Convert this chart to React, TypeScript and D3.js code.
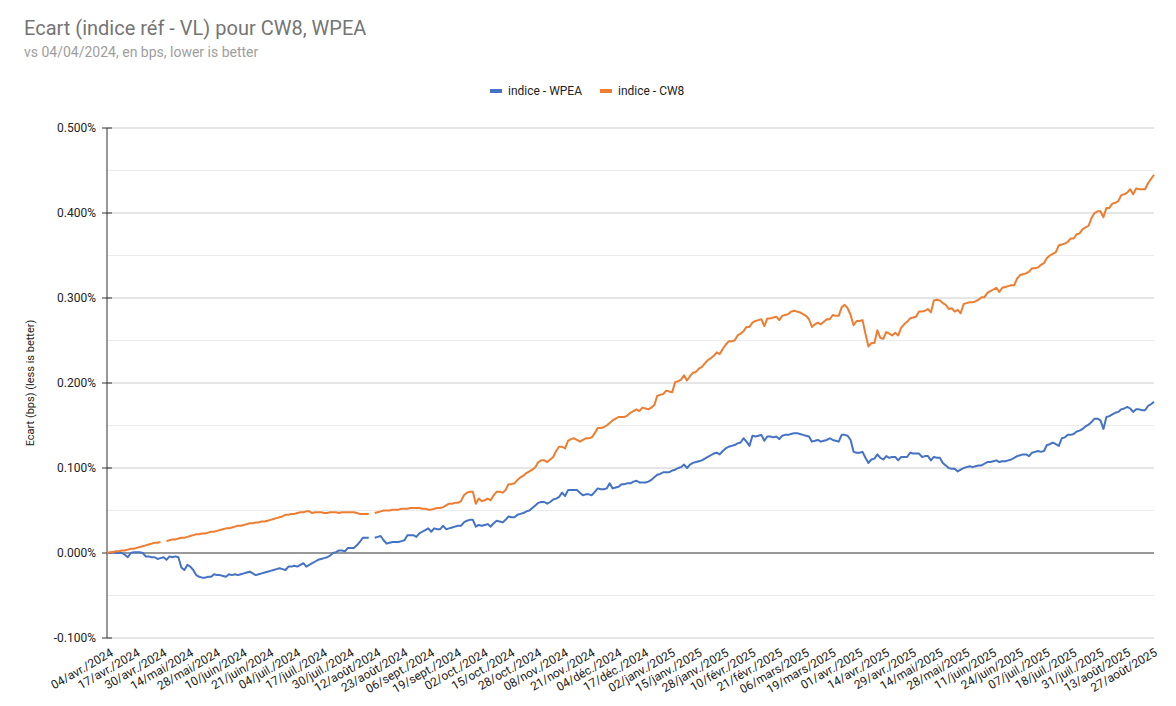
import React, { useEffect, useRef } from 'react'
import * as d3 from 'd3'

// x tick labels, one every 9 trading days
const tickLabels: string[] = [
  '04/avr./2024', '17/avr./2024', '30/avr./2024', '14/mai/2024', '28/mai/2024',
  '10/juin/2024', '21/juin/2024', '04/juil./2024', '17/juil./2024', '30/juil./2024',
  '12/août/2024', '23/août/2024', '06/sept./2024', '19/sept./2024', '02/oct./2024',
  '15/oct./2024', '28/oct./2024', '08/nov./2024', '21/nov./2024', '04/déc./2024',
  '17/déc./2024', '02/janv./2025', '15/janv./2025', '28/janv./2025', '10/févr./2025',
  '21/févr./2025', '06/mars/2025', '19/mars/2025', '01/avr./2025', '14/avr./2025',
  '29/avr./2025', '14/mai/2025', '28/mai/2025', '11/juin/2025', '24/juin/2025',
  '07/juil./2025', '18/juil./2025', '31/juil./2025', '13/août/2025', '27/août/2025'
]
const tickStep = 9

// ecart in %, one value per trading day (null = no value)
const wpea: (number | null)[] = [
  0.000, 0.000, 0.001, 0.000, 0.000, 0.000, -0.002, -0.005, 0.000, 0.001,
  0.001, 0.001, 0.000, -0.004, -0.004, -0.005, -0.005, -0.007, -0.006, -0.005,
  -0.008, -0.004, -0.005, -0.004, -0.005, -0.017, -0.020, -0.014, -0.016, -0.020,
  -0.026, -0.028, -0.029, -0.029, -0.028, -0.028, -0.025, -0.026, -0.026, -0.027,
  -0.028, -0.025, -0.026, -0.025, -0.026, -0.025, -0.024, -0.023, -0.022, -0.024,
  -0.026, -0.025, -0.024, -0.023, -0.022, -0.021, -0.020, -0.019, -0.018, -0.019,
  -0.020, -0.016, -0.016, -0.015, -0.016, -0.014, -0.012, -0.016, -0.014, -0.012,
  -0.010, -0.008, -0.007, -0.006, -0.005, -0.003, 0.000, 0.001, 0.003, 0.003,
  0.002, 0.006, 0.006, 0.006, 0.009, 0.013, 0.018, 0.018, 0.018, null,
  0.018, 0.019, 0.020, 0.015, 0.011, 0.012, 0.013, 0.013, 0.013, 0.014,
  0.015, 0.021, 0.021, 0.021, 0.019, 0.023, 0.025, 0.027, 0.029, 0.025,
  0.029, 0.028, 0.028, 0.032, 0.028, 0.029, 0.030, 0.031, 0.032, 0.032,
  0.036, 0.038, 0.039, 0.039, 0.031, 0.033, 0.032, 0.033, 0.034, 0.031,
  0.035, 0.038, 0.037, 0.036, 0.039, 0.043, 0.042, 0.042, 0.045, 0.046,
  0.047, 0.049, 0.050, 0.053, 0.056, 0.059, 0.060, 0.060, 0.058, 0.060,
  0.063, 0.064, 0.066, 0.071, 0.067, 0.074, 0.074, 0.074, 0.074, 0.071,
  0.068, 0.069, 0.069, 0.068, 0.072, 0.076, 0.075, 0.075, 0.076, 0.082,
  0.076, 0.077, 0.078, 0.081, 0.081, 0.082, 0.082, 0.084, 0.085, 0.083,
  0.083, 0.083, 0.084, 0.086, 0.089, 0.092, 0.093, 0.095, 0.095, 0.095,
  0.097, 0.098, 0.100, 0.101, 0.104, 0.100, 0.104, 0.106, 0.107, 0.108,
  0.109, 0.111, 0.113, 0.115, 0.117, 0.118, 0.116, 0.120, 0.123, 0.125,
  0.126, 0.127, 0.129, 0.130, 0.135, 0.131, 0.126, 0.138, 0.137, 0.138,
  0.139, 0.132, 0.137, 0.137, 0.136, 0.137, 0.134, 0.138, 0.139, 0.139,
  0.140, 0.141, 0.141, 0.140, 0.139, 0.138, 0.137, 0.131, 0.132, 0.133,
  0.131, 0.132, 0.133, 0.135, 0.133, 0.132, 0.131, 0.139, 0.139, 0.138,
  0.133, 0.119, 0.118, 0.118, 0.119, 0.112, 0.106, 0.110, 0.111, 0.116,
  0.112, 0.110, 0.114, 0.112, 0.113, 0.113, 0.109, 0.113, 0.113, 0.113,
  0.118, 0.117, 0.117, 0.117, 0.113, 0.114, 0.114, 0.109, 0.113, 0.112,
  0.112, 0.106, 0.103, 0.100, 0.099, 0.099, 0.096, 0.098, 0.100, 0.101,
  0.102, 0.101, 0.102, 0.103, 0.103, 0.105, 0.107, 0.107, 0.108, 0.109,
  0.107, 0.108, 0.108, 0.109, 0.110, 0.112, 0.114, 0.115, 0.116, 0.116,
  0.114, 0.118, 0.119, 0.120, 0.119, 0.120, 0.127, 0.128, 0.130, 0.128,
  0.126, 0.135, 0.136, 0.139, 0.139, 0.140, 0.143, 0.144, 0.146, 0.149,
  0.151, 0.154, 0.158, 0.158, 0.156, 0.146, 0.160, 0.161, 0.163, 0.165,
  0.166, 0.169, 0.170, 0.172, 0.170, 0.166, 0.169, 0.169, 0.168, 0.168,
  0.173, 0.175, 0.178
]

const cw8: (number | null)[] = [
  0.000, 0.001, 0.001, 0.002, 0.002, 0.003, 0.003, 0.004, 0.005, 0.005,
  0.006, 0.007, 0.008, 0.009, 0.010, 0.011, 0.012, 0.012, 0.013, null,
  0.014, 0.015, 0.016, 0.016, 0.017, 0.018, 0.018, 0.019, 0.020, 0.021,
  0.022, 0.022, 0.023, 0.023, 0.024, 0.025, 0.025, 0.026, 0.027, 0.028,
  0.029, 0.029, 0.030, 0.031, 0.032, 0.032, 0.033, 0.034, 0.035, 0.035,
  0.036, 0.036, 0.037, 0.037, 0.038, 0.039, 0.040, 0.041, 0.042, 0.043,
  0.045, 0.045, 0.046, 0.046, 0.047, 0.048, 0.048, 0.049, 0.049, 0.047,
  0.048, 0.048, 0.048, 0.047, 0.047, 0.048, 0.048, 0.048, 0.047, 0.048,
  0.048, 0.048, 0.048, 0.048, 0.047, 0.046, 0.046, 0.046, 0.046, null,
  0.047, 0.048, 0.049, 0.050, 0.050, 0.050, 0.051, 0.051, 0.051, 0.052,
  0.052, 0.052, 0.053, 0.053, 0.053, 0.053, 0.052, 0.052, 0.051, 0.051,
  0.052, 0.053, 0.053, 0.054, 0.056, 0.058, 0.058, 0.059, 0.059, 0.061,
  0.068, 0.071, 0.072, 0.072, 0.058, 0.064, 0.061, 0.062, 0.064, 0.062,
  0.068, 0.072, 0.072, 0.071, 0.074, 0.081, 0.081, 0.082, 0.086, 0.089,
  0.091, 0.094, 0.096, 0.098, 0.101, 0.107, 0.109, 0.109, 0.107, 0.110,
  0.113, 0.120, 0.125, 0.125, 0.123, 0.132, 0.134, 0.135, 0.133, 0.131,
  0.133, 0.135, 0.135, 0.136, 0.141, 0.147, 0.147, 0.148, 0.150, 0.153,
  0.156, 0.158, 0.160, 0.160, 0.160, 0.162, 0.165, 0.167, 0.169, 0.167,
  0.171, 0.170, 0.169, 0.171, 0.174, 0.185, 0.186, 0.187, 0.191, 0.190,
  0.189, 0.201, 0.202, 0.204, 0.209, 0.203, 0.208, 0.212, 0.213, 0.217,
  0.219, 0.223, 0.227, 0.229, 0.232, 0.236, 0.234, 0.240, 0.245, 0.249,
  0.249, 0.250, 0.256, 0.258, 0.261, 0.266, 0.266, 0.271, 0.273, 0.274,
  0.275, 0.267, 0.276, 0.276, 0.277, 0.278, 0.274, 0.279, 0.280, 0.281,
  0.284, 0.285, 0.284, 0.283, 0.281, 0.279, 0.275, 0.266, 0.269, 0.271,
  0.269, 0.272, 0.275, 0.275, 0.280, 0.279, 0.279, 0.289, 0.292, 0.288,
  0.280, 0.268, 0.273, 0.273, 0.274, 0.258, 0.243, 0.247, 0.247, 0.262,
  0.253, 0.252, 0.260, 0.258, 0.256, 0.259, 0.256, 0.265, 0.269, 0.272,
  0.276, 0.277, 0.278, 0.284, 0.284, 0.285, 0.287, 0.283, 0.297, 0.298,
  0.297, 0.294, 0.292, 0.287, 0.288, 0.284, 0.286, 0.282, 0.293, 0.294,
  0.295, 0.295, 0.296, 0.298, 0.301, 0.301, 0.306, 0.308, 0.310, 0.312,
  0.307, 0.312, 0.313, 0.314, 0.315, 0.315, 0.323, 0.327, 0.328, 0.329,
  0.331, 0.335, 0.335, 0.336, 0.339, 0.341, 0.347, 0.350, 0.352, 0.354,
  0.362, 0.363, 0.364, 0.366, 0.370, 0.370, 0.375, 0.376, 0.381, 0.383,
  0.385, 0.394, 0.400, 0.402, 0.402, 0.395, 0.406, 0.406, 0.411, 0.412,
  0.414, 0.421, 0.422, 0.424, 0.428, 0.422, 0.429, 0.428, 0.428, 0.428,
  0.435, 0.440, 0.445
]

const seriesNames = ['indice - WPEA', 'indice - CW8']
const seriesColors = ['#4472c4', '#ed7d31']

const EcartChart: React.FC = () => {
  const svgRef = useRef<SVGSVGElement>(null)

  useEffect(() => {
    if (!svgRef.current) return

    const svg = d3.select(svgRef.current)
    svg.selectAll('*').remove()

    const width = 1176
    const height = 706
    const left = 107
    const right = 1154
    const top = 128
    const bottom = 638
    const font = 'Roboto, Arial, sans-serif'

    svg.attr('width', width).attr('height', height)

    svg.append('rect')
      .attr('width', width)
      .attr('height', height)
      .attr('fill', '#fff')

    const x = d3.scaleLinear()
      .domain([0, cw8.length - 1])
      .range([left, right])

    const y = d3.scaleLinear()
      .domain([-0.1, 0.5])
      .range([bottom, top])

    // title
    svg.append('text')
      .attr('x', 24)
      .attr('y', 35)
      .style('font-family', font)
      .style('font-size', '20px')
      .style('fill', '#757575')
      .text('Ecart (indice réf - VL) pour CW8, WPEA')

    svg.append('text')
      .attr('x', 24)
      .attr('y', 57)
      .style('font-family', font)
      .style('font-size', '14px')
      .style('fill', '#9e9e9e')
      .text('vs 04/04/2024, en bps, lower is better')

    // legend
    const legendX = [490, 600]
    seriesNames.forEach((name, i) => {
      svg.append('rect')
        .attr('x', legendX[i])
        .attr('y', 89)
        .attr('width', 12)
        .attr('height', 4)
        .attr('fill', seriesColors[i])
      svg.append('text')
        .attr('x', legendX[i] + 18)
        .attr('y', 95)
        .style('font-family', font)
        .style('font-size', '12px')
        .style('fill', '#222')
        .text(name)
    })

    // grid
    const minor = y.ticks(12).filter(t => Math.abs((t * 20) % 2) > 0.5)
    svg.append('g')
      .selectAll('line')
      .data(minor)
      .enter()
      .append('line')
      .attr('x1', left)
      .attr('x2', right)
      .attr('y1', d => y(d))
      .attr('y2', d => y(d))
      .attr('stroke', '#ebebeb')
      .attr('stroke-width', 1)

    const major = y.ticks(6)
    svg.append('g')
      .selectAll('line')
      .data(major)
      .enter()
      .append('line')
      .attr('x1', left)
      .attr('x2', right)
      .attr('y1', d => y(d))
      .attr('y2', d => y(d))
      .attr('stroke', d => (Math.abs(d) < 1e-9 ? '#333' : '#cccccc'))
      .attr('stroke-width', 1)

    // y axis
    svg.append('line')
      .attr('x1', left)
      .attr('x2', left)
      .attr('y1', top)
      .attr('y2', bottom)
      .attr('stroke', '#333')
      .attr('stroke-width', 1)

    major.forEach(t => {
      svg.append('line')
        .attr('x1', left - 5)
        .attr('x2', left + 5)
        .attr('y1', y(t))
        .attr('y2', y(t))
        .attr('stroke', '#333')
      svg.append('text')
        .attr('x', left - 11)
        .attr('y', y(t))
        .attr('dy', '0.35em')
        .attr('text-anchor', 'end')
        .style('font-family', font)
        .style('font-size', '12px')
        .style('fill', '#222')
        .text(`${t.toFixed(3)}%`)
    })

    svg.append('text')
      .attr('transform', `translate(34, ${(top + bottom) / 2}) rotate(-90)`)
      .attr('text-anchor', 'middle')
      .style('font-family', font)
      .style('font-size', '11px')
      .style('fill', '#222')
      .text('Ecart (bps) (less is better)')

    // x labels
    tickLabels.forEach((label, i) => {
      const tx = x(i * tickStep) + 7
      svg.append('text')
        .attr('transform', `translate(${tx}, 655) rotate(-30)`)
        .attr('text-anchor', 'end')
        .style('font-family', font)
        .style('font-size', '12px')
        .style('fill', '#222')
        .text(label)
    })

    // lines
    const line = d3.line<number | null>()
      .defined(d => d !== null)
      .x((d, i) => x(i))
      .y(d => y(d as number))

    ;[wpea, cw8].forEach((values, i) => {
      svg.append('path')
        .datum(values)
        .attr('d', line)
        .attr('fill', 'none')
        .attr('stroke', seriesColors[i])
        .attr('stroke-width', 2)
        .attr('stroke-linejoin', 'round')
    })
  }, [])

  return (
    <svg ref={svgRef} style={{ position: 'absolute', left: 0, top: 0 }}></svg>
  )
}

export default EcartChart
